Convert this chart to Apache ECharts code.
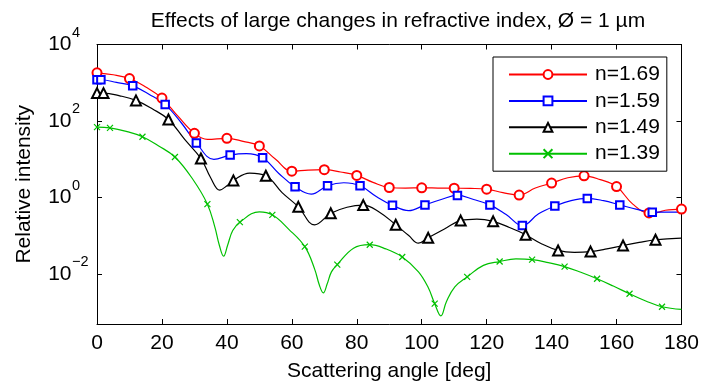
<!DOCTYPE html>
<html><head><meta charset="utf-8">
<script src="https://cdn.jsdelivr.net/npm/echarts@6/dist/echarts.min.js"></script>
<style>html,body{margin:0;padding:0;background:#fff}#c{width:702px;height:387px}</style>
</head><body><div id="c"></div><script>
// ---- data (scattering angle in deg, relative intensity) ----
const xTicks = [0, 20, 40, 60, 80, 100, 120, 140, 160, 180];
const seriesNames = ['n=1.69', 'n=1.59', 'n=1.49', 'n=1.39'];

// n=1.69 : marker points and extra curve points
const red_mx = [0, 10, 20, 30, 40, 50, 60, 70, 80, 90, 100, 110, 120, 130, 140, 150, 160, 170, 180];
const red_my = [1820, 1290, 398, 47.9, 35.5, 22.4, 4.90, 5.37, 3.80, 1.84, 1.80, 1.76, 1.66, 1.17, 2.40, 3.72, 1.95, 0.398, 0.501];
const red_cx = [5, 15, 25, 34, 45, 55, 65, 75, 85, 95, 105, 115, 125, 135, 145, 155, 165, 172.5, 175];
const red_cy = [1620, 776, 132, 33.1, 29.5, 10.0, 5.25, 4.68, 2.51, 1.78, 1.78, 1.74, 1.35, 1.78, 3.31, 2.95, 0.676, 0.407, 0.468];

// n=1.59
const blue_mx = [0, 1.2, 11, 21, 30.6, 41, 51, 61, 71, 81, 91, 101, 111, 121, 131, 141, 151, 161, 171];
const blue_my = [1200, 1200, 832, 269, 26.9, 12.9, 11.0, 1.91, 2.04, 2.04, 0.631, 0.646, 1.14, 0.646, 0.186, 0.603, 0.955, 0.646, 0.417];
const blue_cx = [6, 16, 26, 36, 46, 56, 66, 76, 86, 96, 106, 116, 126, 136, 146, 156, 166, 176, 180];
const blue_cy = [1020, 501, 89.0, 10.0, 14.1, 4.27, 1.23, 2.45, 1.07, 0.457, 0.891, 0.891, 0.363, 0.380, 0.832, 0.832, 0.501, 0.417, 0.417];

// n=1.49
const black_mx = [0, 2, 12, 22, 32, 42, 52, 62, 72, 82, 92, 102, 112, 122, 132, 142, 152, 162, 172];
const black_my = [537, 537, 347, 110, 10.5, 2.82, 3.72, 0.575, 0.389, 0.638, 0.195, 0.0891, 0.251, 0.240, 0.107, 0.0417, 0.0389, 0.0562, 0.0794];
const black_cx = [7, 17, 27, 35, 37.8, 40, 47, 57, 67, 77, 87, 96, 99, 107, 117, 127, 137, 147, 157, 167, 177, 180];
const black_cy = [457, 209, 33.1, 3.31, 1.57, 2.04, 4.37, 1.35, 0.195, 0.562, 0.417, 0.102, 0.0646, 0.151, 0.275, 0.166, 0.0617, 0.0372, 0.0457, 0.0676, 0.0851, 0.0871];

// n=1.39
const green_mx = [0, 4, 14, 24, 34, 44, 54, 64, 74, 84, 94, 104, 114, 124, 134, 144, 154, 164, 174];
const green_my = [69.2, 66.1, 38.9, 11.5, 0.676, 0.229, 0.355, 0.0525, 0.0178, 0.0589, 0.0282, 0.0017, 0.00851, 0.0214, 0.024, 0.0158, 0.00759, 0.00309, 0.00141];
const green_cx = [9, 19, 29.5, 36.3, 37.7, 39, 40.2, 41.8, 50, 59, 67, 68.5, 69.7, 70.9, 72.2, 79, 89, 99, 102, 105.9, 107.6, 110.2, 119, 129, 139, 149, 159, 169, 180];
const green_cy = [53.7, 22.4, 3.02, 0.170, 0.0562, 0.0295, 0.0562, 0.138, 0.427, 0.151, 0.0138, 0.00513, 0.00324, 0.00562, 0.0115, 0.0479, 0.0457, 0.0115, 0.00447, 0.000813, 0.00191, 0.00468, 0.0170, 0.0251, 0.0200, 0.0112, 0.0049, 0.002, 0.0012];

// ---- build ----
const FONT = "'Liberation Sans', Arial, Helvetica, sans-serif";
const FS = 21;
function build(mx, my, cx, cy) {
  const pts = [];
  mx.forEach((x, i) => pts.push({ value: [x, my[i]] }));
  cx.forEach((x, i) => pts.push({ value: [x, cy[i]], symbol: 'none' }));
  pts.sort((a, b) => a.value[0] - b.value[0]);
  return pts;
}
function mkSeries(name, data, color, symbol, size) {
  return {
    name, type: 'line', data, smooth: 0.4, symbol, symbolSize: size, showAllSymbol: true,
    lineStyle: { color, width: 1.2 },
    itemStyle: { color, borderColor: color, borderWidth: 1.2 },
    emphasis: { disabled: true }, animation: false, clip: true
  };
}
function expOf(v) { return Math.round(Math.log10(v)); }
const axisLineStyle = { show: true, onZero: false, lineStyle: { color: '#000', width: 1 } };
const tickStyle = { show: true, inside: true, length: 5, lineStyle: { color: '#000', width: 1 } };
const yBase = { type: 'log', logBase: 100, min: 0.0005, max: 10000, splitLine: { show: false }, minorTick: { show: false } };

const chart = echarts.init(document.getElementById('c'), null, { renderer: 'canvas' });
chart.setOption({
  backgroundColor: '#fff',
  animation: false,
  textStyle: { fontFamily: FONT },
  grid: { left: 97, right: 17.5, top: 44.5, bottom: 61, containLabel: false },
  graphic: [{
    type: 'text', x: 398, y: 11,
    style: { text: 'Effects of large changes in refractive index, \u00d8 = 1 \u00b5m', fontSize: FS, fontFamily: FONT, fill: '#000', textAlign: 'center' }
  }],
  legend: {
    orient: 'vertical', left: 493, top: 57,
    backgroundColor: '#fff', borderColor: '#000', borderWidth: 1, borderRadius: 0,
    padding: [7, 7, 7, 15], itemGap: 5.4, itemWidth: 78, itemHeight: 11,
    data: seriesNames,
    textStyle: { fontSize: FS, color: '#000', fontFamily: FONT, lineHeight: 21, padding: [0, 0, 0, 3] }
  },
  xAxis: [{
    type: 'value', min: 0, max: 180, interval: 20, position: 'bottom',
    axisLine: axisLineStyle, axisTick: tickStyle, splitLine: { show: false },
    axisLabel: { color: '#000', fontSize: FS, margin: 9, fontFamily: FONT },
    name: 'Scattering angle [deg]', nameLocation: 'middle', nameGap: 37,
    nameTextStyle: { fontSize: FS, color: '#000', fontFamily: FONT }
  }, {
    type: 'value', min: 0, max: 180, interval: 20, position: 'top',
    axisLine: axisLineStyle, axisTick: tickStyle, splitLine: { show: false }, axisLabel: { show: false }
  }],
  yAxis: [Object.assign({}, yBase, {
    position: 'left',
    axisLine: axisLineStyle, axisTick: tickStyle,
    axisLabel: {
      showMinLabel: false, margin: 25.5, align: 'right', color: '#000', fontSize: FS, fontFamily: FONT,
      formatter: function () { return '10'; }
    },
    name: 'Relative intensity', nameLocation: 'middle', nameGap: 62, nameRotate: 90,
    nameTextStyle: { fontSize: FS, color: '#000', fontFamily: FONT }
  }), Object.assign({}, yBase, {
    position: 'right',
    axisLine: axisLineStyle, axisTick: tickStyle, axisLabel: { show: false }
  }), Object.assign({}, yBase, {
    position: 'left',
    axisLine: { show: false }, axisTick: { show: false },
    axisLabel: {
      showMinLabel: false, margin: 25, align: 'left', verticalAlign: 'bottom', color: '#000', fontSize: 14.5, fontFamily: FONT,
      lineHeight: 14, padding: [0, 0, 5, 0],
      formatter: function (v) { const e = expOf(v); return e < 0 ? '\u2212' + (-e) : String(e); }
    }
  })],
  series: [
    mkSeries(seriesNames[0], build(red_mx, red_my, red_cx, red_cy), '#ff0000', 'emptyCircle', 9),
    mkSeries(seriesNames[1], build(blue_mx, blue_my, blue_cx, blue_cy), '#0000ff', 'emptyRect', 7.5),
    mkSeries(seriesNames[2], build(black_mx, black_my, black_cx, black_cy), '#000000', 'emptyTriangle', 10),
    mkSeries(seriesNames[3], build(green_mx, green_my, green_cx, green_cy), '#00c000', 'path://M0,0L10,10M10,0L0,10', 6)
  ]
});
</script></body></html>
